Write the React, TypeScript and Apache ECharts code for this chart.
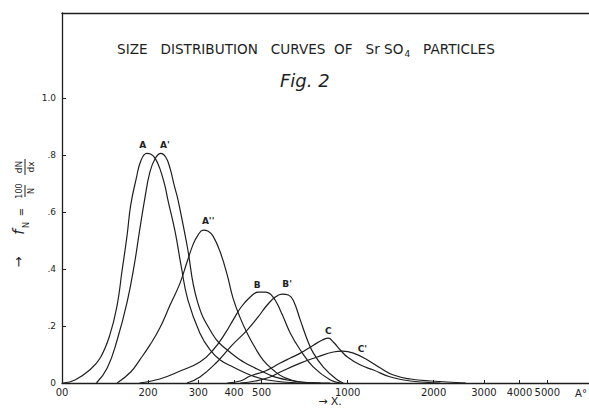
import { useEffect, useRef } from "react";
import * as echarts from "echarts";

// ---- data (x in Ångström, y = f_N) ----
const xA = [101, 111, 125, 136, 147, 156, 162, 169, 174, 182, 189, 198, 205, 212, 220, 229, 235, 249, 261, 276, 304, 330, 358, 397, 456, 523, 683];
const yA = [0, 0.0105, 0.0456, 0.0877, 0.168, 0.274, 0.389, 0.519, 0.625, 0.719, 0.782, 0.807, 0.804, 0.789, 0.754, 0.695, 0.642, 0.531, 0.414, 0.291, 0.175, 0.116, 0.0807, 0.056, 0.028, 0.0105, 0];

const xA1 = [132, 144, 156, 169, 179, 187, 195, 203, 212, 222, 231, 239, 247, 255, 274, 297, 335, 379, 467, 615, 803];
const yA1 = [0, 0.0526, 0.151, 0.284, 0.414, 0.537, 0.649, 0.74, 0.789, 0.807, 0.793, 0.754, 0.695, 0.642, 0.484, 0.291, 0.175, 0.116, 0.056, 0.0105, 0];

const xA2 = [156, 174, 187, 203, 220, 239, 259, 274, 288, 299, 312, 325, 338, 358, 379, 397, 421, 445, 475, 506, 549, 595, 683, 870];
const yA2 = [0, 0.0386, 0.0807, 0.133, 0.193, 0.274, 0.351, 0.425, 0.488, 0.519, 0.537, 0.533, 0.516, 0.46, 0.379, 0.298, 0.228, 0.175, 0.123, 0.0807, 0.0456, 0.021, 0.0035, 0];

const xB = [187, 220, 259, 304, 338, 373, 397, 424, 456, 486, 515, 545, 581, 630, 683, 759, 870, 943];
const yB = [0, 0.014, 0.042, 0.0737, 0.116, 0.175, 0.221, 0.267, 0.302, 0.319, 0.319, 0.305, 0.256, 0.175, 0.116, 0.056, 0.0105, 0];

const xB1 = [274, 304, 349, 394, 445, 486, 523, 558, 590, 620, 645, 683, 723, 759, 822, 921, 966];
const yB1 = [0, 0.021, 0.0737, 0.133, 0.186, 0.232, 0.274, 0.302, 0.312, 0.309, 0.291, 0.221, 0.151, 0.105, 0.056, 0.0105, 0];

const xC = [379, 421, 456, 515, 581, 630, 683, 759, 816, 856, 891, 943, 998, 1109, 1232, 1413, 1661, 2116];
const yC = [0, 0.007, 0.0246, 0.042, 0.07, 0.0877, 0.105, 0.133, 0.151, 0.158, 0.144, 0.116, 0.0912, 0.063, 0.0456, 0.021, 0.007, 0];

const xC1 = [421, 475, 536, 581, 683, 783, 891, 959, 1048, 1174, 1303, 1447, 1661, 1952, 2590];
const yC1 = [0, 0.007, 0.021, 0.0386, 0.07, 0.0912, 0.109, 0.112, 0.105, 0.0807, 0.0526, 0.028, 0.014, 0.007, 0];

const curveNames = ["A", "A'", "A''", "B", "B'", "C", "C'"];

const xTickValues = [100, 200, 300, 400, 500, 1000, 2000, 3000, 4000, 5000];
const xTickLabels = ["00", "200", "300", "400", "500", "1000", "2000", "3000", "4000", "5000"];
const yTickValues = [0, 0.2, 0.4, 0.6, 0.8, 1.0];
const yTickLabels = ["0", ".2", ".4", ".6", ".8", "1.0"];

const xUnit = "A°";
const xName = "→ X.";
const titleText = "SIZE   DISTRIBUTION   CURVES  OF   Sr SO{sub|4}   PARTICLES";
const figText = "Fig. 2";

// label offsets (styling, not data)
const labelOffsets: Record<string, number[]> = {
  "A": [-4, -1],
  "A'": [4, -1],
  "A''": [5, -2],
  "B": [-1, 0],
  "B'": [5, -3],
  "C": [0, 0],
  "C'": [20, 5],
};

const INK = "#1e1e1e";
const FONT = "DejaVu Sans";

export default function App() {
  const ref = useRef<HTMLDivElement>(null);
  useEffect(() => {
    if (!ref.current) return;
    const chart = echarts.init(ref.current, null, { renderer: "svg" });
    const xs = [xA, xA1, xA2, xB, xB1, xC, xC1];
    const ys = [yA, yA1, yA2, yB, yB1, yC, yC1];
    const lx = (v: number) => Math.log10(v);
    const xTickLog = xTickValues.map(lx);
    const findLabel = (v: number) => {
      for (let i = 0; i < xTickLog.length; i++) if (Math.abs(xTickLog[i] - v) < 1e-6) return xTickLabels[i];
      return "";
    };
    const findY = (v: number) => {
      for (let i = 0; i < yTickValues.length; i++) if (Math.abs(yTickValues[i] - v) < 1e-6) return yTickLabels[i];
      return "";
    };

    const series = curveNames.map((name, k) => {
      const xv = xs[k];
      const yv = ys[k];
      let peak = 0;
      yv.forEach((y, i) => {
        if (y > yv[peak]) peak = i;
      });
      return {
        type: "line",
        name,
        smooth: 0.45,
        symbol: "circle",
        symbolSize: 0,
        showSymbol: true,
        showAllSymbol: true,
        lineStyle: { color: INK, width: 1.2 },
        itemStyle: { color: INK },
        emphasis: { disabled: true },
        data: xv.map((x, i) =>
          i === peak
            ? {
                value: [lx(x), yv[i]],
                label: {
                  show: true,
                  formatter: name,
                  position: "top",
                  distance: 3,
                  offset: labelOffsets[name],
                  fontSize: 9,
                  fontWeight: "bold",
                  color: INK,
                  fontFamily: FONT,
                },
              }
            : [lx(x), yv[i]]
        ),
      };
    });

    const xMin = Math.log10(100);
    const xMax = Math.log10(7000);

    chart.setOption({
      animation: false,
      backgroundColor: "#ffffff",
      textStyle: { fontFamily: FONT },
      title: [
        {
          text: titleText,
          left: 117,
          top: 40,
          padding: 0,
          textStyle: {
            fontSize: 13.6,
            fontWeight: "normal",
            color: INK,
            fontFamily: FONT,
            rich: { sub: { fontSize: 9, color: INK, fontFamily: FONT, padding: [9, 0, 0, 1] } },
          },
        },
        {
          text: figText,
          left: 280,
          top: 71,
          padding: 0,
          textStyle: { fontSize: 18, fontStyle: "italic", fontWeight: "normal", color: INK, fontFamily: FONT },
        },
      ],
      grid: { left: 62, right: 0, top: 13, bottom: 27, outerBoundsMode: "none" },
      xAxis: [
        {
          type: "value",
          min: xMin,
          max: xMax,
          position: "bottom",
          axisLine: { show: true, onZero: false, lineStyle: { color: INK, width: 1.3 } },
          axisTick: { show: true, inside: true, length: 3, customValues: xTickLog, lineStyle: { color: INK } },
          axisLabel: {
            customValues: xTickLog,
            formatter: (v: number) => findLabel(v),
            fontSize: 10,
            color: INK,
            margin: 4,
            fontFamily: FONT,
          },
          splitLine: { show: false },
        },
        {
          type: "value",
          min: xMin,
          max: xMax,
          position: "top",
          axisLine: { show: true, onZero: false, lineStyle: { color: INK, width: 1.3 } },
          axisTick: { show: false },
          axisLabel: { show: false },
          splitLine: { show: false },
        },
      ],
      yAxis: {
        type: "value",
        min: 0,
        max: 1.3,
        axisLine: { show: true, onZero: false, lineStyle: { color: INK, width: 1.3 } },
        axisTick: { show: true, inside: true, length: 4, customValues: yTickValues, lineStyle: { color: INK } },
        axisLabel: {
          customValues: yTickValues,
          formatter: (v: number) => findY(v),
          fontSize: 9,
          color: INK,
          margin: 6,
          fontFamily: FONT,
        },
        splitLine: { show: false },
      },
      graphic: [
        {
          type: "group",
          x: 22,
          y: 215,
          rotation: Math.PI / 2,
          silent: true,
          children: [
            { type: "text", x: -47, y: -4, style: { text: "→", fontSize: 13, fill: INK, align: "center", verticalAlign: "middle", fontFamily: FONT } },
            { type: "text", x: -17, y: -3, style: { text: "f", fontSize: 15, fontStyle: "italic", fill: INK, align: "center", verticalAlign: "middle", fontFamily: FONT } },
            { type: "text", x: -10, y: 4, style: { text: "N", fontSize: 8, fill: INK, align: "center", verticalAlign: "middle", fontFamily: FONT } },
            { type: "text", x: 3, y: -1, style: { text: "=", fontSize: 10, fill: INK, align: "center", verticalAlign: "middle", fontFamily: FONT } },
            { type: "text", x: 24, y: -3, style: { text: "100", fontSize: 8, fill: INK, align: "center", verticalAlign: "middle", fontFamily: FONT } },
            { type: "line", shape: { x1: 18, y1: 3, x2: 30, y2: 3 }, style: { stroke: INK, lineWidth: 1 } },
            { type: "text", x: 24, y: 9, style: { text: "N", fontSize: 8, fill: INK, align: "center", verticalAlign: "middle", fontFamily: FONT } },
            { type: "text", x: 48, y: -3, style: { text: "dN", fontSize: 9, fill: INK, align: "center", verticalAlign: "middle", fontFamily: FONT } },
            { type: "line", shape: { x1: 40, y1: 3, x2: 56, y2: 3 }, style: { stroke: INK, lineWidth: 1 } },
            { type: "text", x: 48, y: 9, style: { text: "dx", fontSize: 9, fill: INK, align: "center", verticalAlign: "middle", fontFamily: FONT } },
          ],
        },
        {
          type: "text",
          x: 581,
          y: 393,
          silent: true,
          style: { text: xUnit, fontSize: 10, fill: INK, align: "center", verticalAlign: "middle", fontFamily: FONT },
        },
        {
          type: "text",
          x: 330,
          y: 401,
          silent: true,
          style: { text: xName, fontSize: 11, fill: INK, align: "center", verticalAlign: "middle", fontFamily: FONT },
        },
      ],
      series,
    });
    return () => chart.dispose();
  }, []);
  return <div ref={ref} style={{ position: "absolute", left: 0, top: 0, width: 589, height: 410 }} />;
}
